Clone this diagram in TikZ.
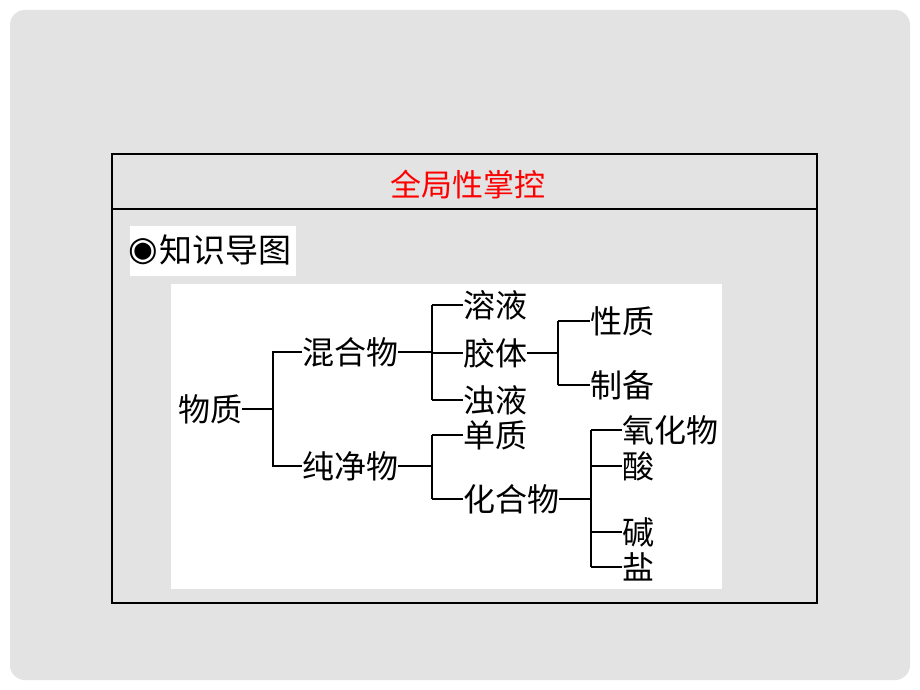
\documentclass[tikz,border=0pt]{standalone}
\usepackage{fontspec}
\setmainfont{Noto Sans CJK SC}
\newfontfamily\dejavu{DejaVu Sans}
\begin{document}
\begin{tikzpicture}[x=1pt,y=-1pt,
  t/.style={inner sep=0pt, anchor=west, font=\fontsize{32}{32}\selectfont},
  ln/.style={line width=1.4pt, black}]
\useasboundingbox (0,0) rectangle (920,690);
\fill[white] (0,0) rectangle (920,690);
\fill[gray!22, rounded corners=15pt] (10,10) rectangle (910,680);
\draw[line width=1.1pt] (112,154) rectangle (817,603);
\draw[line width=1.1pt] (112,209) -- (817,209);
\node[inner sep=0pt, text=red, font=\fontsize{31}{31}\selectfont] (title) at (468,185) {全局性掌控};
\fill[white] (130,226) rectangle (296,276);
\node[inner sep=0pt, font=\dejavu\fontsize{34}{34}\selectfont] (bullet) at (143,252) {◉};
\node[inner sep=0pt, anchor=west, font=\fontsize{33}{33}\selectfont] (kd) at (159,250) {知识导图};
\fill[white] (171,284) rectangle (722,589);
% tree nodes
\node[t] (wz) at (178,409) {物质};
\node[t] (hh) at (302,352) {混合物};
\node[t] (cj) at (302,466) {纯净物};
\node[t] (ry) at (463,305) {溶液};
\node[t] (jt) at (463,353) {胶体};
\node[t] (zy) at (463,400) {浊液};
\node[t] (xz) at (590,321) {性质};
\node[t] (zb) at (590,385) {制备};
\node[t] (dz) at (463,435) {单质};
\node[t] (hhw) at (463,499) {化合物};
\node[t] (yh) at (622,430) {氧化物};
\node[t] (s) at (622,466) {酸};
\node[t] (j) at (622,532) {碱};
\node[t] (y) at (622,567) {盐};
% junction columns
\coordinate (c1) at (273,0);
\coordinate (c2) at (432,0);
\coordinate (c3) at (558,0);
\coordinate (c4) at (591,0);
\draw[ln] (wz.east) -- (wz.east -| c1) |- (hh.west);
\draw[ln] (wz.east -| c1) |- (cj.west);
\draw[ln] (hh.east) -- (hh.east -| c2);
\draw[ln] (ry.west -| c2) -- (zy.west -| c2);
\draw[ln] (ry.west -| c2) -- (ry.west);
\draw[ln] (jt.west -| c2) -- (jt.west);
\draw[ln] (zy.west -| c2) -- (zy.west);
\draw[ln] (jt.east) -- (jt.east -| c3);
\draw[ln] (xz.west -| c3) -- (zb.west -| c3);
\draw[ln] (xz.west -| c3) -- (xz.west);
\draw[ln] (zb.west -| c3) -- (zb.west);
\draw[ln] (cj.east) -- (cj.east -| c2);
\draw[ln] (dz.west -| c2) -- (hhw.west -| c2);
\draw[ln] (dz.west -| c2) -- (dz.west);
\draw[ln] (hhw.west -| c2) -- (hhw.west);
\draw[ln] (hhw.east) -- (hhw.east -| c4);
\draw[ln] (yh.west -| c4) -- (y.west -| c4);
\draw[ln] (yh.west -| c4) -- (yh.west);
\draw[ln] (s.west -| c4) -- (s.west);
\draw[ln] (j.west -| c4) -- (j.west);
\draw[ln] (y.west -| c4) -- (y.west);
\end{tikzpicture}
\end{document}
